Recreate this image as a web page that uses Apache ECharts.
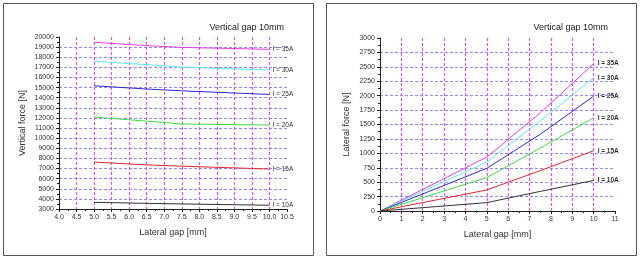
<!DOCTYPE html>
<html>
<head>
<meta charset="utf-8">
<script src="https://cdn.jsdelivr.net/npm/echarts@6/dist/echarts.min.js"></script>
<style>
  html, body { margin: 0; padding: 0; background: #fff; }
  #main { width: 640px; height: 260px; }
</style>
</head>
<body>
<div id="main"></div>
<script>
// current levels, shared by both panels
var currents = ['I = 35A', 'I = 30A', 'I = 25A', 'I = 20A', 'I = 15A', 'I = 10A'];
var colors = ['#e23fe2', '#5ee8f2', '#2a2ad0', '#3fdc3f', '#e02828', '#333333'];

// left panel: vertical force vs lateral gap
var gapV = [5, 6.5, 7.5, 10];
var vForce35 = [19480, 19150, 18970, 18780];
var vForce30 = [17600, 17270, 17020, 16740];
var vForce25 = [15180, 14860, 14680, 14320];
var vForce20 = [12090, 11680, 11400, 11300];
var vForce15 = [7640, 7360, 7230, 6950];
var vForce10 = [3660, 3560, 3500, 3370];

// right panel: lateral force vs lateral gap
var gapL = [0, 5, 7.5, 10];
var lForce35 = [0, 935, 1700, 2555];
var lForce30 = [0, 850, 1560, 2310];
var lForce25 = [0, 740, 1330, 1990];
var lForce20 = [0, 580, 1090, 1615];
var lForce15 = [0, 365, 700, 1045];
var lForce10 = [0, 145, 340, 530];

var vAll = [vForce35, vForce30, vForce25, vForce20, vForce15, vForce10];
var lAll = [lForce35, lForce30, lForce25, lForce20, lForce15, lForce10];

function pairs(xs, ys) {
  return xs.map(function (x, i) { return [x, ys[i]]; });
}

var font = 'Liberation Sans';
var axisTxt = { fontFamily: font, fontSize: 7, color: '#333' };

function xAxisOf(grid, min, max, interval, name) {
  return {
    type: 'value', gridIndex: grid, min: min, max: max, interval: interval,
    name: name, nameLocation: 'middle', nameGap: 19,
    nameTextStyle: { fontFamily: font, fontSize: 9, color: '#333' },
    axisLine: { onZero: false, lineStyle: { color: '#222' } },
    axisTick: { length: 3, lineStyle: { color: '#222' } },
    minorTick: { show: true, splitNumber: 2, length: 2, lineStyle: { color: '#222' } },
    axisLabel: Object.assign({ margin: 5 }, axisTxt, {
      formatter: function (v) { return interval < 1 ? v.toFixed(1) : String(v); }
    }),
    splitLine: { show: true, showMinLine: false, showMaxLine: false,
      lineStyle: { color: '#e050e8', type: [3, 2], width: 1.2 } }
  };
}

function yAxisOf(grid, min, max, interval, name, gap) {
  return {
    type: 'value', gridIndex: grid, min: min, max: max, interval: interval,
    name: name, nameLocation: 'middle', nameGap: gap,
    nameTextStyle: { fontFamily: font, fontSize: 9, color: '#333' },
    axisLine: { show: true, onZero: false, lineStyle: { color: '#222' } },
    axisTick: { show: true, length: 3, lineStyle: { color: '#222' } },
    minorTick: { show: true, splitNumber: 2, length: 2, lineStyle: { color: '#222' } },
    axisLabel: Object.assign({ margin: 5 }, axisTxt, {
      formatter: function (v) { return String(v); }
    }),
    splitLine: { show: true, showMinLine: false, showMaxLine: false,
      lineStyle: { color: '#8c8cf0', type: [3, 2], width: 1.2 } }
  };
}

var series = [];
currents.forEach(function (name, i) {
  series.push({
    type: 'line', name: name, xAxisIndex: 0, yAxisIndex: 0,
    data: pairs(gapV, vAll[i]), symbol: 'none',
    lineStyle: { color: colors[i], width: 1 },
    endLabel: { show: true, formatter: name, fontFamily: font, fontSize: 6.5, color: '#333', distance: 3 }
  });
  series.push({
    type: 'line', name: name, xAxisIndex: 1, yAxisIndex: 1,
    data: pairs(gapL, lAll[i]), symbol: 'none',
    lineStyle: { color: colors[i], width: 1 },
    endLabel: { show: true, formatter: name, fontFamily: font, fontSize: 6.5, fontWeight: 'bold', color: '#333', distance: 4 }
  });
});

var chart = echarts.init(document.getElementById('main'), null, { renderer: 'canvas' });
chart.setOption({
  animation: false,
  backgroundColor: '#fff',
  title: [
    { text: 'Vertical gap 10mm', right: 351, top: 18,
      textStyle: { fontFamily: font, fontSize: 9, fontWeight: 'normal', color: '#222' } },
    { text: 'Vertical gap 10mm', right: 27, top: 18,
      textStyle: { fontFamily: font, fontSize: 9, fontWeight: 'normal', color: '#222' } }
  ],
  grid: [
    { left: 59, top: 37, width: 228, height: 172 },
    { left: 380, top: 38, width: 235, height: 173 }
  ],
  xAxis: [
    xAxisOf(0, 4, 10.5, 0.5, 'Lateral gap [mm]'),
    xAxisOf(1, 0, 11, 1, 'Lateral gap [mm]')
  ],
  yAxis: [
    yAxisOf(0, 3000, 20000, 1000, 'Vertical force [N]', 32),
    yAxisOf(1, 0, 3000, 250, 'Lateral force [N]', 29)
  ],
  graphic: [
    { type: 'rect', shape: { x: 3.5, y: 3.5, width: 310, height: 252 },
      style: { fill: null, stroke: '#555', lineWidth: 1 } },
    { type: 'rect', shape: { x: 326.5, y: 3.5, width: 310, height: 252 },
      style: { fill: null, stroke: '#555', lineWidth: 1 } }
  ],
  series: series
});
</script>
</body>
</html>
